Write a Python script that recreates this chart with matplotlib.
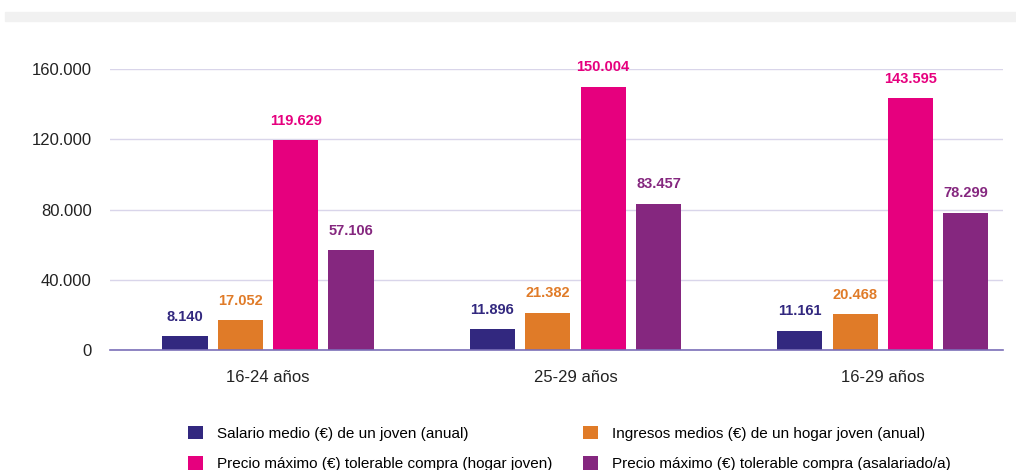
import numpy as np
import matplotlib.pyplot as plt
from matplotlib.patches import Rectangle

plt.rcParams["font.family"] = ["Liberation Sans", "DejaVu Sans"]

groups = ["16-24 años", "25-29 años", "16-29 años"]
series = [
    "Salario medio (€) de un joven (anual)",
    "Ingresos medios (€) de un hogar joven (anual)",
    "Precio máximo (€) tolerable compra (hogar joven)",
    "Precio máximo (€) tolerable compra (asalariado/a)",
]
salario = [8140, 11896, 11161]
ingresos = [17052, 21382, 20468]
precio_hogar = [119629, 150004, 143595]
precio_asal = [57106, 83457, 78299]
colors = ["#32287f", "#e07b28", "#e6007e", "#85277f"]

values = [salario, ingresos, precio_hogar, precio_asal]

fig = plt.figure(figsize=(10.16, 4.70), dpi=100)
# grey band at the top
fig.patches.append(Rectangle((5 / 1016, 1 - 21 / 470), 1, 9 / 470,
                             transform=fig.transFigure, color="#f1f1f1", zorder=0))

ax = fig.add_axes([0.108, 0.255, 0.879, 0.598])
x = np.arange(len(groups))
w = 0.147
step = 0.18
for k, (vals, c) in enumerate(zip(values, colors)):
    xs = x + (k - 1.5) * step
    ax.bar(xs, vals, width=w, color=c, label=series[k], zorder=3)
    for xi, v in zip(xs, vals):
        ax.text(xi, v + 7000, f"{v:,}".replace(",", "."), ha="center", va="bottom",
                color=c, fontsize=10.5, fontweight="bold", clip_on=False)

ax.set_xlim(-0.515, 2.39)
ax.set_ylim(0, 160000)
ax.set_yticks(np.arange(0, 160001, 40000))
ax.set_yticklabels([f"{int(t):,}".replace(",", ".") for t in ax.get_yticks()])
ax.set_xticks(x)
ax.set_xticklabels(groups)
ax.tick_params(axis="y", length=0, pad=13, labelsize=12, labelcolor="#222222")
ax.tick_params(axis="x", length=0, pad=14, labelsize=12, labelcolor="#222222")
ax.grid(axis="y", color="#d9d5ea", linewidth=1, zorder=0)
for s in ["top", "right", "left"]:
    ax.spines[s].set_visible(False)
ax.spines["bottom"].set_color("#7b6fb8")
ax.spines["bottom"].set_linewidth(1.2)
ax.spines["bottom"].set_zorder(4)

handles, labels = ax.get_legend_handles_labels()
order = [0, 2, 1, 3]
fig.legend([handles[i] for i in order], [labels[i] for i in order],
           loc="upper left", bbox_to_anchor=(174 / 1016, 1 - 412 / 470),
           ncol=2, frameon=False, handlelength=1.0, handleheight=1.0,
           handletextpad=0.9, columnspacing=2.0, labelspacing=1.0,
           prop={"family": ["Liberation Sans", "DejaVu Sans"], "size": 11})

fig.savefig("out.png", dpi=100)
